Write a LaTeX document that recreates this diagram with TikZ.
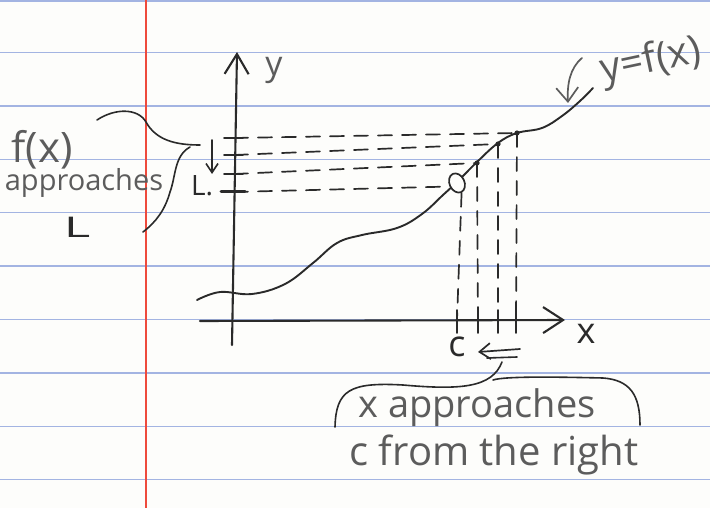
\documentclass[tikz,border=0pt]{standalone}
\usepackage{fontspec}
\setmainfont{Open Sans}
\usetikzlibrary{arrows.meta, shapes.geometric}

\definecolor{paper}{HTML}{FDFDFB}
\definecolor{ruleblue}{HTML}{A3B4E2}
\definecolor{marginred}{HTML}{EE4A3C}
\definecolor{ink}{HTML}{2A2A2A}
\definecolor{pencil}{HTML}{5C5C5C}

\newcommand{\hand}[1]{\fontsize{#1}{#1}\selectfont}

\begin{document}
\begin{tikzpicture}[
    x=1pt, y=-1pt,
    rule/.style={line width=1.3pt, ruleblue},
    margin/.style={line width=1.5pt, marginred},
    pen/.style={line width=1.9pt, ink, line cap=round},
    faint/.style={line width=1.7pt, pencil, line cap=round},
    guide/.style={pen, line width=1.7pt, dash pattern=on 14pt off 10pt},
    tick/.style={pen, line width=1.7pt},
    note/.style={pencil, inner sep=0pt},
    inked/.style={ink, inner sep=0pt},
    bigtip/.style={-{Straight Barb[length=20pt, width=26pt]}},
    smalltip/.style={-{Straight Barb[length=9pt, width=12pt]}}
]
    % ==========================================
    % Paper
    % ==========================================
    \fill[paper] (0,0) rectangle (710,508);
    \useasboundingbox (0,0) rectangle (710,508);
    \foreach \ry in {1,52.5,105.9,159.3,212.7,266.1,319.5,372.9,426.3,479.7}
        \draw[rule] (0,\ry) -- (710,\ry);
    \draw[margin] (146,0) -- (146,508);

    % ==========================================
    % Axes
    % ==========================================
    \coordinate (y_foot) at (232,345);
    \coordinate (y_tip) at (237,52);
    \coordinate (x_foot) at (200,321);
    \coordinate (x_tip) at (565,320);
    \draw[pen, line width=2.1pt, -{Straight Barb[length=20pt, width=24pt]}] (y_foot) -- (y_tip);
    \draw[pen, line width=2.1pt, bigtip] (x_foot) -- (x_tip);
    \node[note, font=\hand{34}] (ylab) at (274,70) {y};
    \node[inked, font=\hand{36}] (xlab) at (586,334) {x};

    % ==========================================
    % Graph of f
    % ==========================================
    \draw[pen] plot[smooth, tension=0.65] coordinates {
        (197,300) (220,292) (252,294) (285,284) (313,263) (337,243)
        (362,235) (397,228) (422,214) (443,195) (457,182) (477,162)
        (498,143) (517,133) (542,128) (562,116) (580,101) (593,88)};

    % points on the curve, approaching from the right
    \coordinate (p4) at (517,133);
    \coordinate (p3) at (498,144);
    \coordinate (p2) at (477,163);
    \node[draw=ink, line width=1.7pt, fill=paper, ellipse, minimum width=15pt,
          minimum height=20pt, inner sep=0pt, rotate=25] (hole) at (457,183) {};
    \foreach \p in {p2,p3,p4}
        \fill[ink] (\p) circle (2.6pt);

    % --- ticks on the x axis ---
    \foreach \name/\xx in {xc/457, x2/478, x3/498, x4/516} {
        \coordinate (\name) at (\xx,320);
        \draw[tick] (\xx,310) -- (\xx,333);
    }
    % --- ticks on the y axis ---
    \foreach \name/\yy in {y2/174, y3/155, y4/138} {
        \coordinate (\name) at (234,\yy);
        \draw[tick] (224,\yy) -- (243,\yy);
    }
    \coordinate (yL) at (234,192);
    \draw[tick, line width=3pt] (221,192) -- (245,192);

    % --- dashed guides ---
    \draw[guide] (y4) -- (p4);
    \draw[guide] (y3) -- (p3);
    \draw[guide] (y2) -- (p2);
    \draw[guide] (yL) -- (hole.west);
    \draw[guide] (hole.south) -- (xc);
    \draw[guide] (p2) -- (x2);
    \draw[guide] (p3) -- (x3);
    \draw[guide] (p4) -- (x4);

    % ==========================================
    % Labels near the axes
    % ==========================================
    \node[inked, font=\hand{28}] (Lmark) at (202,186) {L.};
    \coordinate (down_top) at (212,140);
    \coordinate (down_end) at (212,174);
    \draw[pen, line width=1.6pt, smalltip] (down_top) -- (down_end);

    \node[inked, font=\hand{36}] (c) at (457,347) {c};
    \coordinate (arr_tail) at (520,349);
    \coordinate (arr_head) at (478,352);
    \draw[pen, line width=1.7pt, -{Straight Barb[length=11pt, width=16pt]}] (arr_tail) -- (arr_head);
    \coordinate (bar_a) at (487,358);
    \coordinate (bar_b) at (517,357);
    \draw[pen, line width=1.6pt] (bar_a) -- (bar_b);

    % ==========================================
    % y = f(x) label
    % ==========================================
    \node[note, font=\hand{40}, rotate=12] (fx) at (651,62) {y=f(x)};
    \coordinate (ptr_start) at (582,58);
    \coordinate (ptr_end) at (568,103);
    \draw[faint, -{Straight Barb[length=14pt, width=22pt]}]
        (ptr_start) .. controls (570,68) and (567,84) .. (ptr_end);

    % ==========================================
    % f(x) approaches L
    % ==========================================
    \node[note, font=\hand{42}] (fxtxt) at (42,150) {f(x)};
    \node[note, font=\hand{29}] (apptxt) at (84,183) {approaches};
    \node[inked, font=\hand{30}] (Lbig) at (77,227) {\scalebox{1.7}[0.95]{L}};
    \coordinate (lb_top) at (97,120);
    \coordinate (lb_cusp) at (200,145);
    \coordinate (lb_bot) at (143,232);
    \draw[pen, line width=1.6pt]
        (lb_top) .. controls (115,108) and (138,108) .. (146,122)
        .. controls (156,140) and (175,145) .. (lb_cusp);
    \draw[pen, line width=1.6pt]
        (190,147) .. controls (174,156) and (176,176) .. (170,192)
        .. controls (165,210) and (156,222) .. (lb_bot);

    % ==========================================
    % x approaches c from the right
    % ==========================================
    \node[note, font=\hand{38}] (xtxt) at (477,408) {x approaches};
    \node[note, font=\hand{40}] (ctxt) at (494,455) {c from the right};
    \coordinate (bb_left) at (335,427);
    \coordinate (bb_cusp) at (502,362);
    \coordinate (bb_right) at (640,425);
    \draw[pen, line width=1.6pt]
        (bb_left) .. controls (336,390) and (350,382) .. (403,385)
        .. controls (460,390) and (492,388) .. (bb_cusp);
    \draw[pen, line width=1.6pt]
        (493,380) .. controls (505,376) and (560,377) .. (603,378)
        .. controls (630,380) and (640,395) .. (bb_right);
\end{tikzpicture}
\end{document}
